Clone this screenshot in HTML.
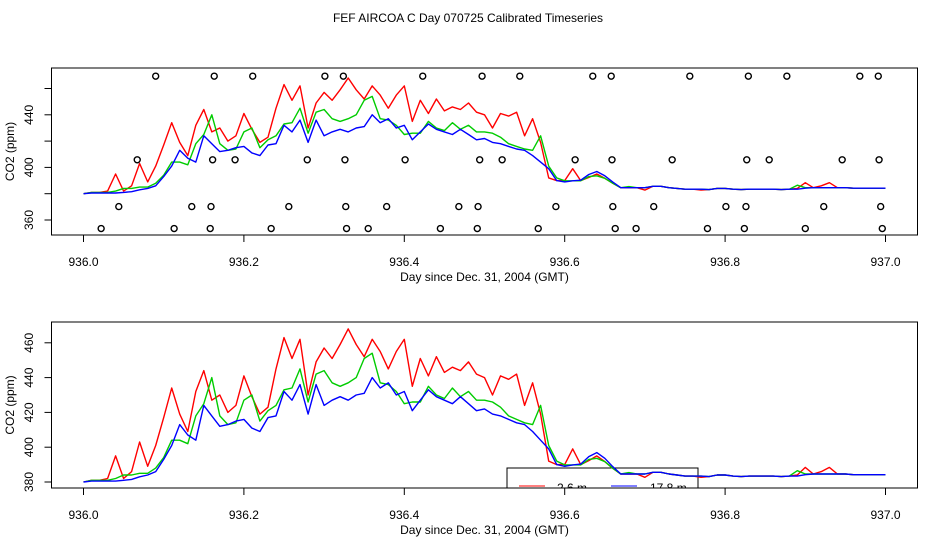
<!DOCTYPE html>
<html><head><meta charset="utf-8"><style>
body{margin:0;background:#fff}
svg{display:block;font-family:"Liberation Sans",sans-serif}
</style></head><body>
<svg id="c" width="936" height="540" viewBox="0 0 936 540">
<text x="468" y="22" text-anchor="middle" font-size="12">FEF AIRCOA C  Day 070725  Calibrated Timeseries</text>
</svg>
<script>
const red = [380,381,381,382,395,382,386,403,389,401,417,434,419,409,432,444,427,430,420,424,441,
429,419,423,445,463,451,462,430,449,457,451,459,468,459,452,462,455,445,455,462,
435,451,441,452,443,446,444,449,442,440,430,441,439,442,424,437,419,392,390,390,
399,390,392.3,395,391.7,387.9,384.6,384.6,384.6,382.7,385.6,385.6,384.6,384,383.4,383.4,382.7,383.1,384,384,
383.4,383.1,383.4,383.4,383.4,383.4,383.1,383.4,384,388.4,384.6,386,388.4,384.6,384.6,384.2,384.2,384.2,384.2,384.2];
const green = [380,381,381,381,382,384,384,385,385,388,394,404,404,402,418,425,440,418,413,414,427,
430,415,421,424,433,434,445,426,442,444,437,435,437,440,451,454,437,436,432,425,
426,426,435,430,428,434,429,432,427,427,426,423,418,416,414,413,424,401,392,389.8,
389.8,389.8,393,393.6,391.7,387.9,384.6,385.4,384.6,384.6,385.6,385.6,384.6,384,383.4,383.4,383.4,383.1,384,384,
383.4,383.1,383.4,383.4,383.4,383.4,383.1,383.4,386.5,384.6,384.6,384.6,384.6,384.6,384.6,384.2,384.2,384.2,384.2,384.2];
const blue = [380,380.5,380.5,380.5,380.5,381,381.5,383,384,386,393,401,413,407,404,424,418,412,413,415,416,
411,409,417,418,432,427,436,419,436,424,427,429,427,430,431,440,434,437,430,432,
421,427,433,429,427,425,429,425,421,422,419,418,416,414,413,409,404,399,390,389,
389.8,390.3,394.6,396.9,393.6,388.8,384.6,384.6,384.6,384.6,385.6,385.6,384.6,384,383.4,383.4,383.4,383.1,384,384,
383.4,383.1,383.4,383.4,383.4,383.4,383.1,383.4,383.4,384.2,384.6,384.6,384.6,384.6,384.6,384.2,384.2,384.2,384.2,384.2];
const t0 = 936.0, dt = 0.01;
const flagTimes1 = [.090,.163,.211,.301,.324,.423,.497,.544,.635,.658,.756,.829,.877,.968,.991];
const flagTimes2 = [.067,.161,.189,.279,.326,.401,.494,.522,.613,.659,.734,.827,.855,.946,.992];
const flagTimes3 = [.044,.135,.159,.256,.327,.378,.468,.492,.589,.660,.711,.801,.826,.923,.994];
const flagTimes4 = [.022,.113,.158,.234,.328,.355,.445,.491,.567,.663,.689,.778,.824,.900,.996];
const flagLevels = [469.4,405.8,370.2,353.5];
const xTicks = [936.0,936.2,936.4,936.6,936.8,937.0];
const yTicksTop = [360,380,400,420,440,460];
const yLabelsTop = [360,400,440];
const yTicksBot = [380,400,420,440,460];

const NS="http://www.w3.org/2000/svg";
const svg=document.getElementById('c');
function mk(tag,attrs,parent){const e=document.createElementNS(NS,tag);for(const k in attrs)e.setAttribute(k,attrs[k]);(parent||svg).appendChild(e);return e;}
const X = d => 83.5 + (d-936)*802;
const BL=51.5, BR=917.5;

function panel(top,bot,yScale,yTicks,yLabels,withFlags,withLegend,id){
  const Y=yScale;
  const g=mk('g',{});
  
  
  const cp=mk('clipPath',{id:'clip'+id},g);
  mk('rect',{x:BL,y:top,width:BR-BL,height:bot-top},cp);
  const plot=mk('g',{'clip-path':'url(#clip'+id+')'},g);
  if(withLegend){
    const lg=mk('g',{},plot);
    
    
    mk('rect',{x:507,y:468,width:191,height:40,fill:'none',stroke:'#000','stroke-width':1},lg);
    mk('line',{x1:519,y1:486,x2:545,y2:486,stroke:'#ff0000','stroke-width':1},lg);
    const t1=mk('text',{x:557,y:492,'font-size':12},lg);t1.textContent='2.6 m';
    
    
    mk('line',{x1:611,y1:486,x2:637,y2:486,stroke:'#0000ff','stroke-width':1},lg);
    const t2=mk('text',{x:650,y:492,'font-size':12},lg);t2.textContent='17.8 m';
    
    
  }
  [[red,'#ff0000','red-series-2-6m'],[green,'#00cc00','green-series'],[blue,'#0000ff','blue-series-17-8m']].forEach(s=>{
    const pts=s[0].map((v,i)=>X(t0+i*dt).toFixed(1)+','+Y(v).toFixed(1)).join(' ');
    const pl=mk('polyline',{points:pts,fill:'none',stroke:s[1],'stroke-width':1.4,'stroke-linejoin':'round'},plot);
    
    
  });
  if(withFlags){
    [flagTimes1,flagTimes2,flagTimes3,flagTimes4].forEach((arr,r)=>{
      arr.forEach(t=>{
        const c=mk('circle',{cx:X(936+t),cy:Y(flagLevels[r]),r:3,fill:'none',stroke:'#000','stroke-width':1.4},plot);
        
        
      });
    });
  }
  const box=mk('rect',{x:BL,y:top,width:BR-BL,height:bot-top,fill:'none',stroke:'#000','stroke-width':1},g);
  
  
  xTicks.forEach(v=>{
    mk('line',{x1:X(v),y1:bot,x2:X(v),y2:bot+7,stroke:'#000'},g);
    const t=mk('text',{x:X(v),y:bot+31,'font-size':12,'text-anchor':'middle'},g);
    t.textContent=v.toFixed(1);
    
    
  });
  yTicks.forEach(v=>{
    mk('line',{x1:BL,y1:Y(v),x2:BL-7,y2:Y(v),stroke:'#000'},g);
  });
  yLabels.forEach(v=>{
    const t=mk('text',{x:0,y:0,'font-size':12,'text-anchor':'middle',transform:`translate(33,${Y(v)}) rotate(-90)`},g);
    t.textContent=v;
    
    
  });
  const xl=mk('text',{x:484.5,y:bot+46,'font-size':12,'text-anchor':'middle'},g);
  xl.textContent='Day since Dec. 31, 2004 (GMT)';
  
  
  const yl=mk('text',{x:0,y:0,'font-size':12,'text-anchor':'middle',transform:`translate(14,${(top+bot)/2}) rotate(-90)`},g);
  yl.textContent='CO2 (ppm)';
  
  
}
panel(68,235,v=>220-(v-360)*1.315,yTicksTop,yLabelsTop,true,false,'top');
panel(322,488,v=>482-(v-380)*1.74,yTicksBot,yTicksBot,false,true,'bottom');
</script>
</body></html>
